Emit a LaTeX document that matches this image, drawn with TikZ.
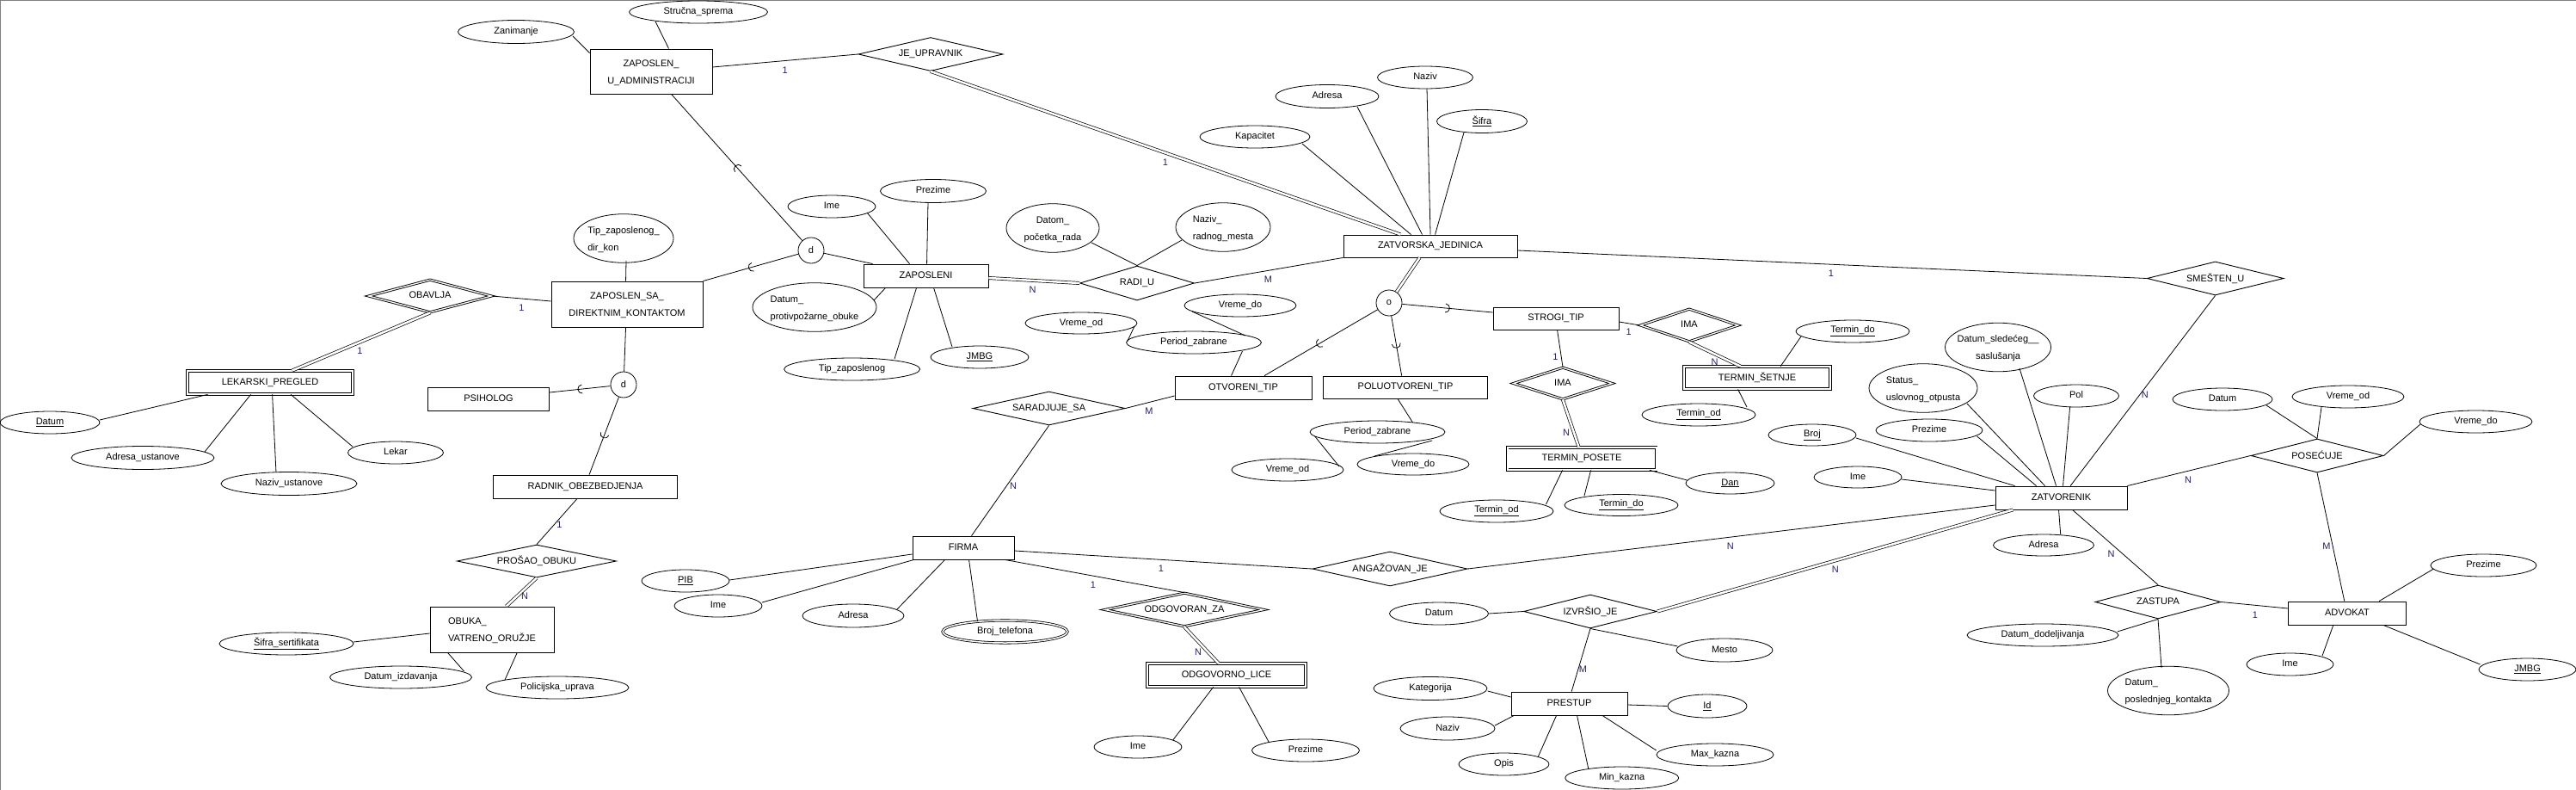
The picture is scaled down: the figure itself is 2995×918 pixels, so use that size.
\documentclass[tikz,border=0pt]{standalone}
\usepackage{fontspec}
\setmainfont{Liberation Sans}
\usetikzlibrary{shapes.geometric,decorations.markings,calc}
\definecolor{cardc}{RGB}{40,30,100}
\definecolor{framec}{RGB}{128,128,128}
\newcommand\zw[1]{\makebox[0pt]{\vphantom{Ag}#1}}
\newcommand\twoc[2]{\makebox[0pt]{\begin{tabular}{@{}c@{}}#1\\#2\end{tabular}}}
\newcommand\twol[2]{\makebox[0pt]{\begin{tabular}{@{}l@{}}#1\\#2\end{tabular}}}
\tikzset{
  every node/.style={font=\fontsize{11pt}{20pt}\selectfont, inner sep=0pt},
  sz/.style 2 args={minimum width=#1pt, minimum height=#2pt},
  ent/.style={draw, rectangle, line width=0.9pt},
  went/.style={draw, rectangle, double, double distance=2pt, line width=0.8pt},
  rel/.style={draw, diamond, line width=0.9pt},
  wrel/.style={draw, diamond, double, double distance=1.3pt, line width=0.9pt},
  attr/.style={draw, ellipse, line width=0.8pt},
  mattr/.style={draw, ellipse, double, double distance=1.5pt, line width=0.8pt},
  spec/.style={draw, circle, line width=0.8pt, minimum size=30pt},
  card/.style={text=cardc},
  conn/.style={line width=0.8pt},
  tot/.style={double, double distance=2.5pt, line width=0.7pt},
  subarc/.style={postaction={decorate,decoration={markings,mark=at position #1 with {\draw[line width=0.8pt] (-2.5pt,5pt) arc[start angle=90,end angle=-90,radius=5pt];}}}}
}
\begin{document}
\begin{tikzpicture}[x=1pt,y=-1pt]
\useasboundingbox (0,0) rectangle (2995,918);
\draw[framec, line width=1.5pt] (0,918) -- (0,0) -- (2995,0);

% ---------- entities ----------
\node[ent,sz={142}{52}] (zua) at (757,83) {\twoc{ZAPOSLEN\_}{U\_ADMINISTRACIJI}};
\node[ent,sz={176}{53}] (zsd) at (729,353.5) {\twoc{ZAPOSLEN\_SA\_}{DIREKTNIM\_KONTAKTOM}};
\node[ent,sz={145}{27}] (zap) at (1076.5,320.5) {\zw{ZAPOSLENI}};
\node[ent,sz={202}{26}] (zj) at (1663,286) {\zw{ZATVORSKA\_JEDINICA}};
\node[went,sz={192}{27}] (lek) at (314,444.5) {\zw{LEKARSKI\_PREGLED}};
\node[ent,sz={141}{27}] (psi) at (568,463.5) {\zw{PSIHOLOG}};
\node[ent,sz={214}{27}] (rad) at (680.5,565.5) {\zw{RADNIK\_OBEZBEDJENJA}};
\node[ent,sz={144}{53}] (obu) at (572,731.5) {\twol{OBUKA\_}{VATRENO\_ORUŽJE}};
\node[ent,sz={159}{27}] (otv) at (1445.5,450.5) {\zw{OTVORENI\_TIP}};
\node[ent,sz={191}{26}] (pol) at (1634,450) {\zw{POLUOTVORENI\_TIP}};
\node[ent,sz={146}{26}] (str) at (1809,370) {\zw{STROGI\_TIP}};
\node[went,sz={170}{26}] (tse) at (2043,439) {\zw{TERMIN\_ŠETNJE}};
\node[went,sz={173}{26}] (tpo) at (1839,533) {\zw{TERMIN\_POSETE}};
\node[ent,sz={153}{27}] (zat) at (2396.5,578.5) {\zw{ZATVORENIK}};
\node[ent,sz={118}{27}] (fir) at (1120,636.5) {\zw{FIRMA}};
\node[went,sz={184}{27}] (odl) at (1426,784.5) {\zw{ODGOVORNO\_LICE}};
\node[ent,sz={135}{27}] (pre) at (1824.5,817.5) {\zw{PRESTUP}};
\node[ent,sz={137}{27}] (adv) at (2729,712.5) {\zw{ADVOKAT}};

% ---------- relationships ----------
\node[rel,sz={168}{39}] (jeu) at (1082,63) {\zw{JE\_UPRAVNIK}};
\node[rel,sz={133}{40}] (radu) at (1322,329) {\zw{RADI\_U}};
\node[wrel,sz={143}{38}] (obv) at (500,344) {\zw{OBAVLJA}};
\node[rel,sz={177}{39}] (sar) at (1219.6,474.5) {\zw{SARADJUJE\_SA}};
\node[rel,sz={185}{38}] (pro) at (624,652) {\zw{PROŠAO\_OBUKU}};
\node[wrel,sz={185}{39}] (odz) at (1377,708.5) {\zw{ODGOVORAN\_ZA}};
\node[rel,sz={180}{40}] (ang) at (1616,661) {\zw{ANGAŽOVAN\_JE}};
\node[rel,sz={155}{39}] (izv) at (1849,710.5) {\zw{IZVRŠIO\_JE}};
\node[wrel,sz={114}{38}] (imaa) at (1964,378) {\zw{IMA}};
\node[wrel,sz={115}{37}] (imab) at (1817,445.5) {\zw{IMA}};
\node[rel,sz={159}{39}] (sme) at (2575.6,323.5) {\zw{SMEŠTEN\_U}};
\node[rel,sz={154}{39}] (pos) at (2694,529.5) {\zw{POSEĆUJE}};
\node[rel,sz={146}{39}] (zas) at (2509,699.5) {\zw{ZASTUPA}};

% ---------- specialization circles ----------
\node[spec] (da) at (943,291) {d};
\node[spec] (db) at (725,447) {d};
\node[spec] (oa) at (1615,352) {o};

% ---------- attributes ----------
\node[attr,sz={135}{27}] (azan) at (600,37) {\zw{Zanimanje}};
\node[attr,sz={161}{26}] (astr) at (812,14) {\zw{Stručna\_sprema}};
\node[attr,sz={116}{52}] (atip) at (725,277) {\twol{Tip\_zaposlenog\_}{dir\_kon}};
\node[attr,sz={102}{26}] (aimea) at (967,240) {\zw{Ime}};
\node[attr,sz={123}{27}] (aprza) at (1085,222) {\zw{Prezime}};
\node[attr,sz={144}{52}] (adpr) at (947,357) {\twol{Datum\_}{protivpožarne\_obuke}};
\node[attr,sz={158}{26}] (atz) at (990.6,429) {\zw{Tip\_zaposlenog}};
\node[attr,sz={114}{26}] (ajmbga) at (1139,415) {\zw{\underline{JMBG}}};
\node[attr,sz={108}{55}] (adpo) at (1224,265) {\twoc{Datom\_}{početka\_rada}};
\node[attr,sz={110}{53}] (anrm) at (1422,264) {\twol{Naziv\_}{radnog\_mesta}};
\node[attr,sz={128}{26}] (akap) at (1459,159) {\zw{Kapacitet}};
\node[attr,sz={120}{27}] (aadra) at (1543,112) {\zw{Adresa}};
\node[attr,sz={111}{26}] (anaza) at (1657,90) {\zw{Naziv}};
\node[attr,sz={105}{27}] (asif) at (1723,141) {\zw{\underline{Šifra}}};
\node[attr,sz={130}{25}] (avoda) at (1257,375.5) {\zw{Vreme\_od}};
\node[attr,sz={130}{26}] (avdoa) at (1442,355) {\zw{Vreme\_do}};
\node[attr,sz={157}{26}] (apza) at (1388,398) {\zw{Period\_zabrane}};
\node[attr,sz={157}{26}] (apzb) at (1601.5,502) {\zw{Period\_zabrane}};
\node[attr,sz={130}{26}] (avodb) at (1497,546) {\zw{Vreme\_od}};
\node[attr,sz={130}{25}] (avdob) at (1643,539.5) {\zw{Vreme\_do}};
\node[attr,sz={132}{26}] (atdoa) at (2154,385) {\zw{\underline{Termin\_do}}};
\node[attr,sz={132}{26}] (atoda) at (1975,482) {\zw{\underline{Termin\_od}}};
\node[attr,sz={132}{26}] (atodb) at (1740,594) {\zw{\underline{Termin\_od}}};
\node[attr,sz={132}{25}] (atdob) at (1885,587) {\zw{\underline{Termin\_do}}};
\node[attr,sz={103}{25}] (adan) at (2011.5,561.5) {\zw{\underline{Dan}}};
\node[attr,sz={123}{53}] (adsl) at (2323,403.5) {\twoc{Datum\_sledećeg\_\_}{saslušanja}};
\node[attr,sz={126}{53}] (asta) at (2236,451) {\twol{Status\_}{uslovnog\_otpusta}};
\node[attr,sz={99}{26}] (apol) at (2414,460) {\zw{Pol}};
\node[attr,sz={102}{25}] (abrj) at (2107,505.5) {\zw{\underline{Broj}}};
\node[attr,sz={124}{26}] (aprzb) at (2243,500) {\zw{Prezime}};
\node[attr,sz={102}{25}] (aimeb) at (2160,554.5) {\zw{Ime}};
\node[attr,sz={117}{25}] (aadrb) at (2376,633.5) {\zw{Adresa}};
\node[attr,sz={116}{26}] (adata) at (2584,464) {\zw{Datum}};
\node[attr,sz={130}{26}] (avodc) at (2730,461) {\zw{Vreme\_od}};
\node[attr,sz={131}{26}] (avdoc) at (2878.5,490) {\zw{Vreme\_do}};
\node[attr,sz={176}{26}] (addj) at (2375,738) {\zw{Datum\_dodeljivanja}};
\node[attr,sz={141}{53}] (adpk) at (2521,802.5) {\twol{Datum\_}{poslednjeg\_kontakta}};
\node[attr,sz={123}{26}] (aprzc) at (2887.5,657) {\zw{Prezime}};
\node[attr,sz={101}{26}] (aimec) at (2662.5,772) {\zw{Ime}};
\node[attr,sz={113}{26}] (ajmbgb) at (2938.5,778) {\zw{\underline{JMBG}}};
\node[attr,sz={116}{26}] (adatb) at (58,491) {\zw{\underline{Datum}}};
\node[attr,sz={166}{27}] (aaus) at (166,532) {\zw{Adresa\_ustanove}};
\node[attr,sz={158}{27}] (anus) at (336,562) {\zw{Naziv\_ustanove}};
\node[attr,sz={111}{26}] (alek) at (460,526) {\zw{Lekar}};
\node[attr,sz={156}{26}] (assf) at (333,748) {\zw{\underline{Šifra\_sertifikata}}};
\node[attr,sz={165}{26}] (adiz) at (466,787) {\zw{Datum\_izdavanja}};
\node[attr,sz={166}{26}] (apup) at (648,799) {\zw{Policijska\_uprava}};
\node[attr,sz={102}{26}] (apib) at (797,675) {\zw{\underline{PIB}}};
\node[attr,sz={102}{26}] (aimed) at (835,704) {\zw{Ime}};
\node[attr,sz={118}{27}] (aadrc) at (992,715.5) {\zw{Adresa}};
\node[mattr,sz={145}{26}] (abtl) at (1168.5,734) {\zw{Broj\_telefona}};
\node[attr,sz={102}{26}] (aimee) at (1323,868) {\zw{Ime}};
\node[attr,sz={125}{26}] (aprzd) at (1518,872) {\zw{Prezime}};
\node[attr,sz={115}{26}] (adatc) at (1673,713) {\zw{Datum}};
\node[attr,sz={112}{27}] (ames) at (2005,755.5) {\zw{Mesto}};
\node[attr,sz={132}{27}] (akat) at (1663,800) {\zw{Kategorija}};
\node[attr,sz={110}{27}] (anazb) at (1683,846.5) {\zw{Naziv}};
\node[attr,sz={105}{26}] (aopi) at (1748.5,888) {\zw{Opis}};
\node[attr,sz={132}{26}] (amin) at (1885.7,904) {\zw{Min\_kazna}};
\node[attr,sz={136}{26}] (amax) at (1994,877) {\zw{Max\_kazna}};
\node[attr,sz={92}{27}] (aid) at (1985,820.5) {\zw{\underline{Id}}};

% ---------- connectors ----------
% ZAPOSLEN_U_ADMINISTRACIJI
\draw[conn] ($(azan)+(66,5)$) -- ($(zua.north west)+(0,5)$);
\draw[conn] ($(astr)+(-50,11)$) -- ($(zua.north west)+(92,0)$);
\draw[conn] ($(zua.east)+(0,-5)$) -- (jeu.west);
\draw[tot] (jeu.south) -- ($(zj.north west)+(67,0)$);
\draw[conn,subarc=0.5] (da) -- ($(zua.south west)+(95,0)$);
% ZAPOSLEN_SA_DIREKTNIM_KONTAKTOM
\draw[conn] ($(atip)+(3,26)$) -- ($(zsd.north west)+(87,0)$);
\draw[conn,subarc=0.5] (da) -- (zsd.north east);
\draw[conn] (obv.east) -- ($(zsd.west)+(0,-3.5)$);
\draw[tot] (obv.south) -- ($(lek.north west)+(122,0)$);
\draw[conn] ($(zsd.south west)+(87,0)$) -- (db);
\draw[conn,subarc=0.5] (db) -- ($(psi.east)+(0,-7.5)$);
\draw[conn,subarc=0.5] (db) -- ($(rad.north west)+(112,0)$);
% RADNIK / OBUKA
\draw[conn] ($(rad.south west)+(98,0)$) -- (pro.north);
\draw[tot] (pro.south) -- ($(obu.north west)+(89,0)$);
\draw[conn] ($(assf)+(78,-2)$) -- ($(obu.west)+(0,4.5)$);
\draw[conn] ($(adiz)+(73.5,-7)$) -- ($(obu.south west)+(21,0)$);
\draw[conn] ($(apup)+(-61,-9)$) -- ($(obu.south west)+(101.7,0)$);
% LEKARSKI_PREGLED
\draw[conn] ($(adatb)+(58,-3)$) -- ($(lek.south west)+(24,0)$);
\draw[conn] ($(aaus)+(72,-7)$) -- ($(lek.south west)+(74,0)$);
\draw[conn] ($(anus)+(-15,-13)$) -- ($(lek.south west)+(99,0)$);
\draw[conn] ($(alek)+(-50,-7)$) -- ($(lek.south west)+(120.5,0)$);
% ZAPOSLENI
\draw[conn] (da) -- ($(zap.north west)+(11,0)$);
\draw[conn] ($(aimea)+(41,7)$) -- ($(zap.north west)+(54,0)$);
\draw[conn] ($(aprza)+(-6,13)$) -- ($(zap.north west)+(74,0)$);
\draw[conn] ($(adpr)+(69,-8)$) -- ($(zap.south west)+(26,0)$);
\draw[conn] ($(atz)+(49.4,-12)$) -- ($(zap.south west)+(62,0)$);
\draw[conn] ($(ajmbga)+(-32,-12)$) -- ($(zap.south west)+(82,0)$);
\draw[tot] ($(zap.east)+(0,2.5)$) -- (radu.west);
% RADI_U
\draw[conn] ($(adpo)+(45,17)$) -- (radu.north);
\draw[conn] ($(anrm)+(-48,15)$) -- (radu.north);
\draw[conn] (radu.east) -- (zj.south west);
% ZATVORSKA_JEDINICA
\draw[conn] ($(akap)+(55,8)$) -- ($(zj.north west)+(79,0)$);
\draw[conn] ($(aadra)+(35,12)$) -- ($(zj.north west)+(92,0)$);
\draw[conn] ($(anaza)+(2,13)$) -- ($(zj.north west)+(101.5,0)$);
\draw[conn] ($(asif)+(-21,13)$) -- ($(zj.north west)+(107,0)$);
\draw[conn] ($(zj.east)+(0,5)$) -- (sme.west);
\draw[tot] ($(zj.south west)+(89,0)$) -- (oa);
\draw[conn,subarc=0.52] (oa) -- ($(otv.north west)+(104.5,0)$);
\draw[conn,subarc=0.5] (oa) -- ($(pol.north west)+(91.6,0)$);
\draw[conn,subarc=0.5] (oa) -- ($(str.west)+(0,-7)$);
% OTVORENI_TIP
\draw[conn] ($(apza)+(56.5,10)$) -- ($(otv.north west)+(66,0)$);
\draw[conn] ($(avoda)+(62,3.5)$) -- ($(apza)+(-77.4,-1)$);
\draw[conn] ($(avdoa)+(-56,7)$) -- ($(apza)+(60,-8)$);
\draw[conn] (sar.east) -- ($(otv.west)+(0,9.5)$);
\draw[conn] (sar.south) -- ($(fir.north west)+(69,0)$);
% POLUOTVORENI_TIP
\draw[conn] ($(pol.south west)+(87,0)$) -- ($(apzb)+(41,-11)$);
\draw[conn] ($(apzb)+(-72.8,5)$) -- ($(avodb)+(60,-4)$);
\draw[conn] ($(apzb)+(63.5,10)$) -- ($(avdob)+(-45,-9.5)$);
% STROGI_TIP
\draw[conn] ($(str.east)+(0,4)$) -- (imaa.west);
\draw[tot] (imaa.south) -- ($(tse.north west)+(66,0)$);
\draw[conn] ($(str.south west)+(75,0)$) -- (imab.north);
\draw[tot] (imab.south) -- ($(tpo.north west)+(83.5,0)$);
\draw[conn] ($(atdoa)+(-60,6)$) -- ($(tse.north west)+(112.6,0)$);
\draw[conn] ($(tse.south west)+(63,0)$) -- ($(atoda)+(56,-9)$);
\draw[conn] ($(tpo.south west)+(64.5,0)$) -- ($(atodb)+(57.5,-8)$);
\draw[conn] ($(tpo.south west)+(97.5,0)$) -- ($(atdob)+(-43,-11)$);
\draw[conn] ($(tpo.south east)+(-8,0)$) -- ($(adan)+(-50,-3.5)$);
% ZATVORENIK
\draw[conn] (sme.south) -- ($(zat.north west)+(87.6,0)$);
\draw[conn] ($(adsl)+(25,24.5)$) -- ($(zat.north west)+(71,0)$);
\draw[conn] ($(apol)+(-7.4,13)$) -- ($(zat.north west)+(79,0)$);
\draw[conn] ($(asta)+(51,18)$) -- ($(zat.north west)+(58,0)$);
\draw[conn] ($(aprzb)+(55.6,7)$) -- ($(zat.north west)+(48,0)$);
\draw[conn] ($(abrj)+(51,3.5)$) -- ($(zat.north west)+(23,0)$);
\draw[conn] ($(aimeb)+(51,2.5)$) -- ($(zat.west)+(0,-8.5)$);
\draw[conn] (zat.north east) -- (pos.west);
\draw[conn] ($(aadrb)+(19.7,-12.5)$) -- ($(zat.south west)+(74,0)$);
\draw[conn] ($(zat.south west)+(90,0)$) -- (zas.north);
\draw[tot] ($(zat.south west)+(20.7,0)$) -- (izv.east);
\draw[conn] (ang.east) -- ($(zat.west)+(0,8.5)$);
% POSECUJE
\draw[conn] ($(adata)+(51,7)$) -- (pos.north);
\draw[conn] ($(avodc)+(-31,12)$) -- (pos.north);
\draw[conn] ($(avdoc)+(-64.5,3)$) -- (pos.east);
\draw[conn] (pos.south) -- ($(adv.north west)+(65.7,0)$);
% ZASTUPA / ADVOKAT
\draw[conn] (zas.east) -- ($(adv.west)+(0,-5.5)$);
\draw[conn] ($(addj)+(86.7,-4)$) -- (zas.south);
\draw[conn] (zas.south) -- ($(adpk)+(-8,-26.5)$);
\draw[conn] ($(adv.north west)+(106,0)$) -- ($(aprzc)+(-58,4)$);
\draw[conn] ($(adv.south west)+(52.7,0)$) -- ($(aimec)+(37.5,-10)$);
\draw[conn] ($(adv.south west)+(111,0)$) -- ($(ajmbgb)+(-55,-6)$);
% FIRMA
\draw[conn] ($(apib)+(51,-1)$) -- ($(fir.west)+(0,7.5)$);
\draw[conn] ($(aimed)+(51,-4)$) -- ($(fir.south west)+(2,0)$);
\draw[conn] ($(aadrc)+(51,-7.5)$) -- ($(fir.south west)+(38,0)$);
\draw[conn] ($(fir.south west)+(66,0)$) -- ($(abtl)+(-32,-12)$);
\draw[conn] ($(fir.east)+(0,3.5)$) -- (ang.west);
\draw[conn] ($(fir.south east)+(-11,0)$) -- (odz.north);
\draw[tot] (odz.south) -- ($(odl.north west)+(83,0)$);
\draw[conn] ($(odl.south west)+(77,0)$) -- ($(aimee)+(40.7,-8)$);
\draw[conn] ($(odl.south west)+(107,0)$) -- ($(aprzd)+(-42.4,-9)$);
% IZVRSIO_JE / PRESTUP
\draw[conn] (adatc.east) -- (izv.west);
\draw[conn] (izv.south) -- ($(ames)+(-54.5,-4.5)$);
\draw[conn] (izv.south) -- ($(pre.north west)+(70.6,0)$);
\draw[conn] ($(akat)+(66.6,3)$) -- ($(pre.west)+(0,-7.5)$);
\draw[conn] ($(anazb)+(55,-3.5)$) -- ($(pre.south west)+(3.7,0)$);
\draw[conn] ($(aopi)+(39.5,-8)$) -- ($(pre.south west)+(53,0)$);
\draw[conn] ($(amin)+(-39,-11)$) -- ($(pre.south west)+(77,0)$);
\draw[conn] ($(amax)+(-68.3,-5)$) -- ($(pre.south west)+(106.5,0)$);
\draw[conn] ($(pre.east)+(0,1.5)$) -- (aid.west);

% ---------- cardinalities ----------
\node[card] (c1) at (912.6,82) {1};
\node[card] (c2) at (1355,189) {1};
\node[card] (c3) at (606.5,358) {1};
\node[card] (c4) at (418.5,408) {1};
\node[card] (c5) at (650.5,610) {1};
\node[card] (c6) at (610,693) {N};
\node[card] (c7) at (1200.6,337) {N};
\node[card] (c8) at (1474.5,325) {M};
\node[card] (c9) at (2129,318) {1};
\node[card] (c10) at (1336,478) {M};
\node[card] (c11) at (1178,565) {N};
\node[card] (c12) at (1893.6,386) {1};
\node[card] (c13) at (1993.6,421) {N};
\node[card] (c14) at (1808.5,415) {1};
\node[card] (c15) at (1821,503) {N};
\node[card] (c16) at (2493.7,459) {N};
\node[card] (c17) at (2544,558) {N};
\node[card] (c18) at (2705,635) {M};
\node[card] (c19) at (2454.5,644) {N};
\node[card] (c20) at (2622,715) {1};
\node[card] (c21) at (2133.7,662) {N};
\node[card] (c22) at (2011.8,635) {N};
\node[card] (c23) at (1350,661) {1};
\node[card] (c24) at (1271,680) {1};
\node[card] (c25) at (1393,758) {N};
\node[card] (c26) at (1840.5,778) {M};
\end{tikzpicture}
\end{document}
